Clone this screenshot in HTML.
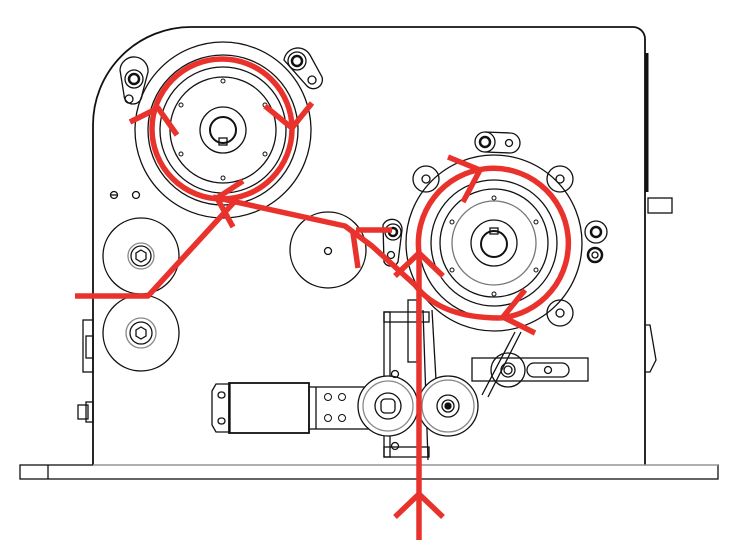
<!DOCTYPE html>
<html><head><meta charset="utf-8"><style>html,body{margin:0;padding:0;background:#fff}svg{display:block}</style></head>
<body>
<svg width="743" height="551" viewBox="0 0 743 551" xmlns="http://www.w3.org/2000/svg">
<g fill="none" stroke="#111" stroke-width="1.3">
  <!-- frame -->
  <path d="M93,465 L93,125 A98,98 0 0 1 191,27 L633,27 A12,12 0 0 1 645,39 L645,465" stroke-width="1.8"/>
  <line x1="647" y1="53" x2="647" y2="192" stroke-width="3"/>
  <rect x="648" y="198" width="24" height="15"/>
  <path d="M645,325 L650,325 L656,360 L650,372 L645,372"/>
  <rect x="20" y="465" width="698" height="14"/>
  <line x1="48" y1="465" x2="48" y2="479"/>
  <line x1="93" y1="465" x2="718" y2="465" stroke="#aaa"/>
  <rect x="83" y="320" width="10" height="52"/>
  <rect x="86" y="336" width="7" height="22"/>
  <rect x="78" y="405" width="10" height="14"/>
  <rect x="86" y="402" width="7" height="20"/>
  <circle cx="114" cy="195" r="3.5"/><line x1="110" y1="195" x2="118" y2="195"/>
  <circle cx="136" cy="195" r="3.5"/>

  <!-- upper-left reel -->
  <circle cx="223" cy="130" r="88"/>
  <circle cx="223" cy="130" r="75"/>
  <circle cx="223" cy="130" r="63"/>
  <circle cx="223" cy="130" r="53"/>
  <circle cx="223" cy="130" r="23"/>
  <circle cx="223" cy="130" r="13" stroke-width="2"/>
  <rect x="219" y="138" width="8" height="7"/>
  <g stroke-width="1"><circle cx="223" cy="81" r="2"/><circle cx="223" cy="178" r="2"/><circle cx="181" cy="105" r="2"/><circle cx="265" cy="105" r="2"/><circle cx="181" cy="154" r="2"/><circle cx="265" cy="154" r="2"/></g>
  <!-- brackets -->
  <path d="M120,70 A14,14 0 0 1 148,72 L142,95 A9,9 0 0 1 124,95 Z"/>
  <circle cx="134" cy="79" r="9"/><circle cx="134" cy="79" r="5" stroke-width="2.5"/><circle cx="129" cy="99" r="4"/>
  <path d="M284,60 A14,14 0 0 1 310,55 L322,77 A9,9 0 0 1 307,86 Z"/>
  <circle cx="297" cy="61" r="9"/><circle cx="297" cy="61" r="5" stroke-width="2.5"/><circle cx="312" cy="80" r="4"/>

  <!-- left rollers -->
  <circle cx="141" cy="256" r="38"/>
  <circle cx="141" cy="256" r="13" stroke="#888"/><circle cx="141" cy="256" r="10"/>
  <polygon points="141,250 146,253 146,259 141,262 136,259 136,253"/>
  <circle cx="141" cy="333" r="38"/>
  <circle cx="141" cy="333" r="15" stroke="#888"/><circle cx="141" cy="333" r="11"/>
  <polygon points="141,327 146,330 146,336 141,339 136,336 136,330"/>
  <circle cx="328" cy="250" r="38"/>
  <circle cx="328" cy="251" r="3.5"/>
  <!-- small roller -->
  <path d="M383,225 A10,10 0 0 1 402,230 L398,262 A8,8 0 0 1 384,262 Z"/>
  <circle cx="393" cy="232" r="8"/><circle cx="393" cy="232" r="4" stroke-width="2.5"/><circle cx="391" cy="255" r="3.5"/>

  <!-- right reel -->
  <circle cx="494" cy="243" r="88"/>
  <circle cx="494" cy="243" r="75"/>
  <circle cx="494" cy="243" r="63"/>
  <circle cx="494" cy="243" r="54"/>
  <circle cx="494" cy="243" r="42" stroke="#777"/>
  <circle cx="494" cy="243" r="23"/>
  <circle cx="494" cy="244" r="13" stroke-width="2"/>
  <rect x="490" y="228" width="8" height="6"/>
  <g stroke-width="1"><circle cx="494" cy="198" r="2"/><circle cx="494" cy="294" r="2"/><circle cx="452" cy="222" r="2"/><circle cx="536" cy="222" r="2"/><circle cx="452" cy="270" r="2"/><circle cx="536" cy="270" r="2"/></g>
  <circle cx="485" cy="142" r="10"/><circle cx="485" cy="142" r="5" stroke-width="2.5"/>
  <path d="M485,132 L510,133 A10,10 0 0 1 510,153 L485,152"/><circle cx="509" cy="143" r="3.5"/>
  <circle cx="426" cy="179" r="13"/><circle cx="426" cy="179" r="4"/>
  <circle cx="560" cy="179" r="13"/><circle cx="560" cy="179" r="4"/>
  <circle cx="560" cy="313" r="13"/><circle cx="560" cy="313" r="4"/>
  <circle cx="596" cy="232" r="11"/><circle cx="596" cy="232" r="5" stroke-width="2.5"/>
  <circle cx="595" cy="255" r="7" stroke-width="2.5"/><circle cx="595" cy="255" r="3"/>

  <!-- lower assembly -->
  <rect x="384" y="312" width="45" height="10"/>
  <rect x="384" y="312" width="6" height="145"/>
  <rect x="408" y="300" width="9" height="62"/>
  <rect x="384" y="447" width="45" height="10"/>
  <line x1="423" y1="310" x2="428" y2="460"/>
  <line x1="432" y1="310" x2="436" y2="380"/>
  <line x1="515" y1="332" x2="482" y2="395"/>
  <line x1="521" y1="332" x2="488" y2="397"/>
  <rect x="472" y="358" width="116" height="23"/>
  <circle cx="508" cy="370" r="17"/><circle cx="508" cy="370" r="7"/><circle cx="508" cy="370" r="4"/>
  <rect x="527" y="363" width="42" height="14" rx="7"/><circle cx="548" cy="370" r="3.5"/>
  <path d="M212,391 L216,384 L230,384 L230,432 L216,432 L212,425 Z"/>
  <rect x="218" y="392" width="7" height="6" rx="3"/><rect x="218" y="418" width="7" height="6" rx="3"/>
  <rect x="229" y="383" width="80" height="50" stroke-width="1.8"/>
  <rect x="309" y="387" width="60" height="42"/>
  <line x1="316" y1="387" x2="316" y2="429"/>
  <g stroke-width="1"><circle cx="328" cy="397" r="3.5"/><circle cx="342" cy="397" r="3.5"/><circle cx="328" cy="418" r="3.5"/><circle cx="342" cy="418" r="3.5"/></g>
  <circle cx="388" cy="406" r="30" fill="#fff"/><circle cx="388" cy="406" r="25" stroke="#888"/>
  <circle cx="388" cy="406" r="13"/><rect x="381" y="399" width="14" height="14" rx="4"/>
  <circle cx="395" cy="374" r="3.5"/><circle cx="395" cy="446" r="3.5"/>
  <circle cx="448" cy="406" r="30" fill="#fff"/><circle cx="448" cy="406" r="26" stroke="#888"/>
  <circle cx="448" cy="406" r="11"/><circle cx="448" cy="406" r="6"/><circle cx="448" cy="406" r="3" fill="#111"/>
</g>

<!-- red path -->
<g fill="none" stroke="#ea322c" stroke-width="5.5" stroke-linecap="butt" stroke-linejoin="round">
  <circle cx="222" cy="129" r="70"/>
  <path d="M75,296 L148,296 L236,200"/>
  <path d="M213,197 L345,226 L372,246 L415,285 Q440,318 500,318"/>
  <path d="M356,230 L392,230"/>
  <path d="M419,540 L419,253 A75,75 0 1 1 500,318"/>
  <!-- arrowheads -->
  <path d="M130,122 L158,108 L177,135"/>
  <path d="M265,106 L292,128 L312,103"/>
  <path d="M243,181 L217,198 L233,227"/>
  <path d="M358,268 L353,233"/>
  <path d="M395,276 L419,253 L443,276"/>
  <path d="M448,157 L480,170 L463,202"/>
  <path d="M525,290 L503,317 L535,333"/>
  <path d="M395,517 L419,494 L443,517"/>
</g>
</svg>
</body></html>
